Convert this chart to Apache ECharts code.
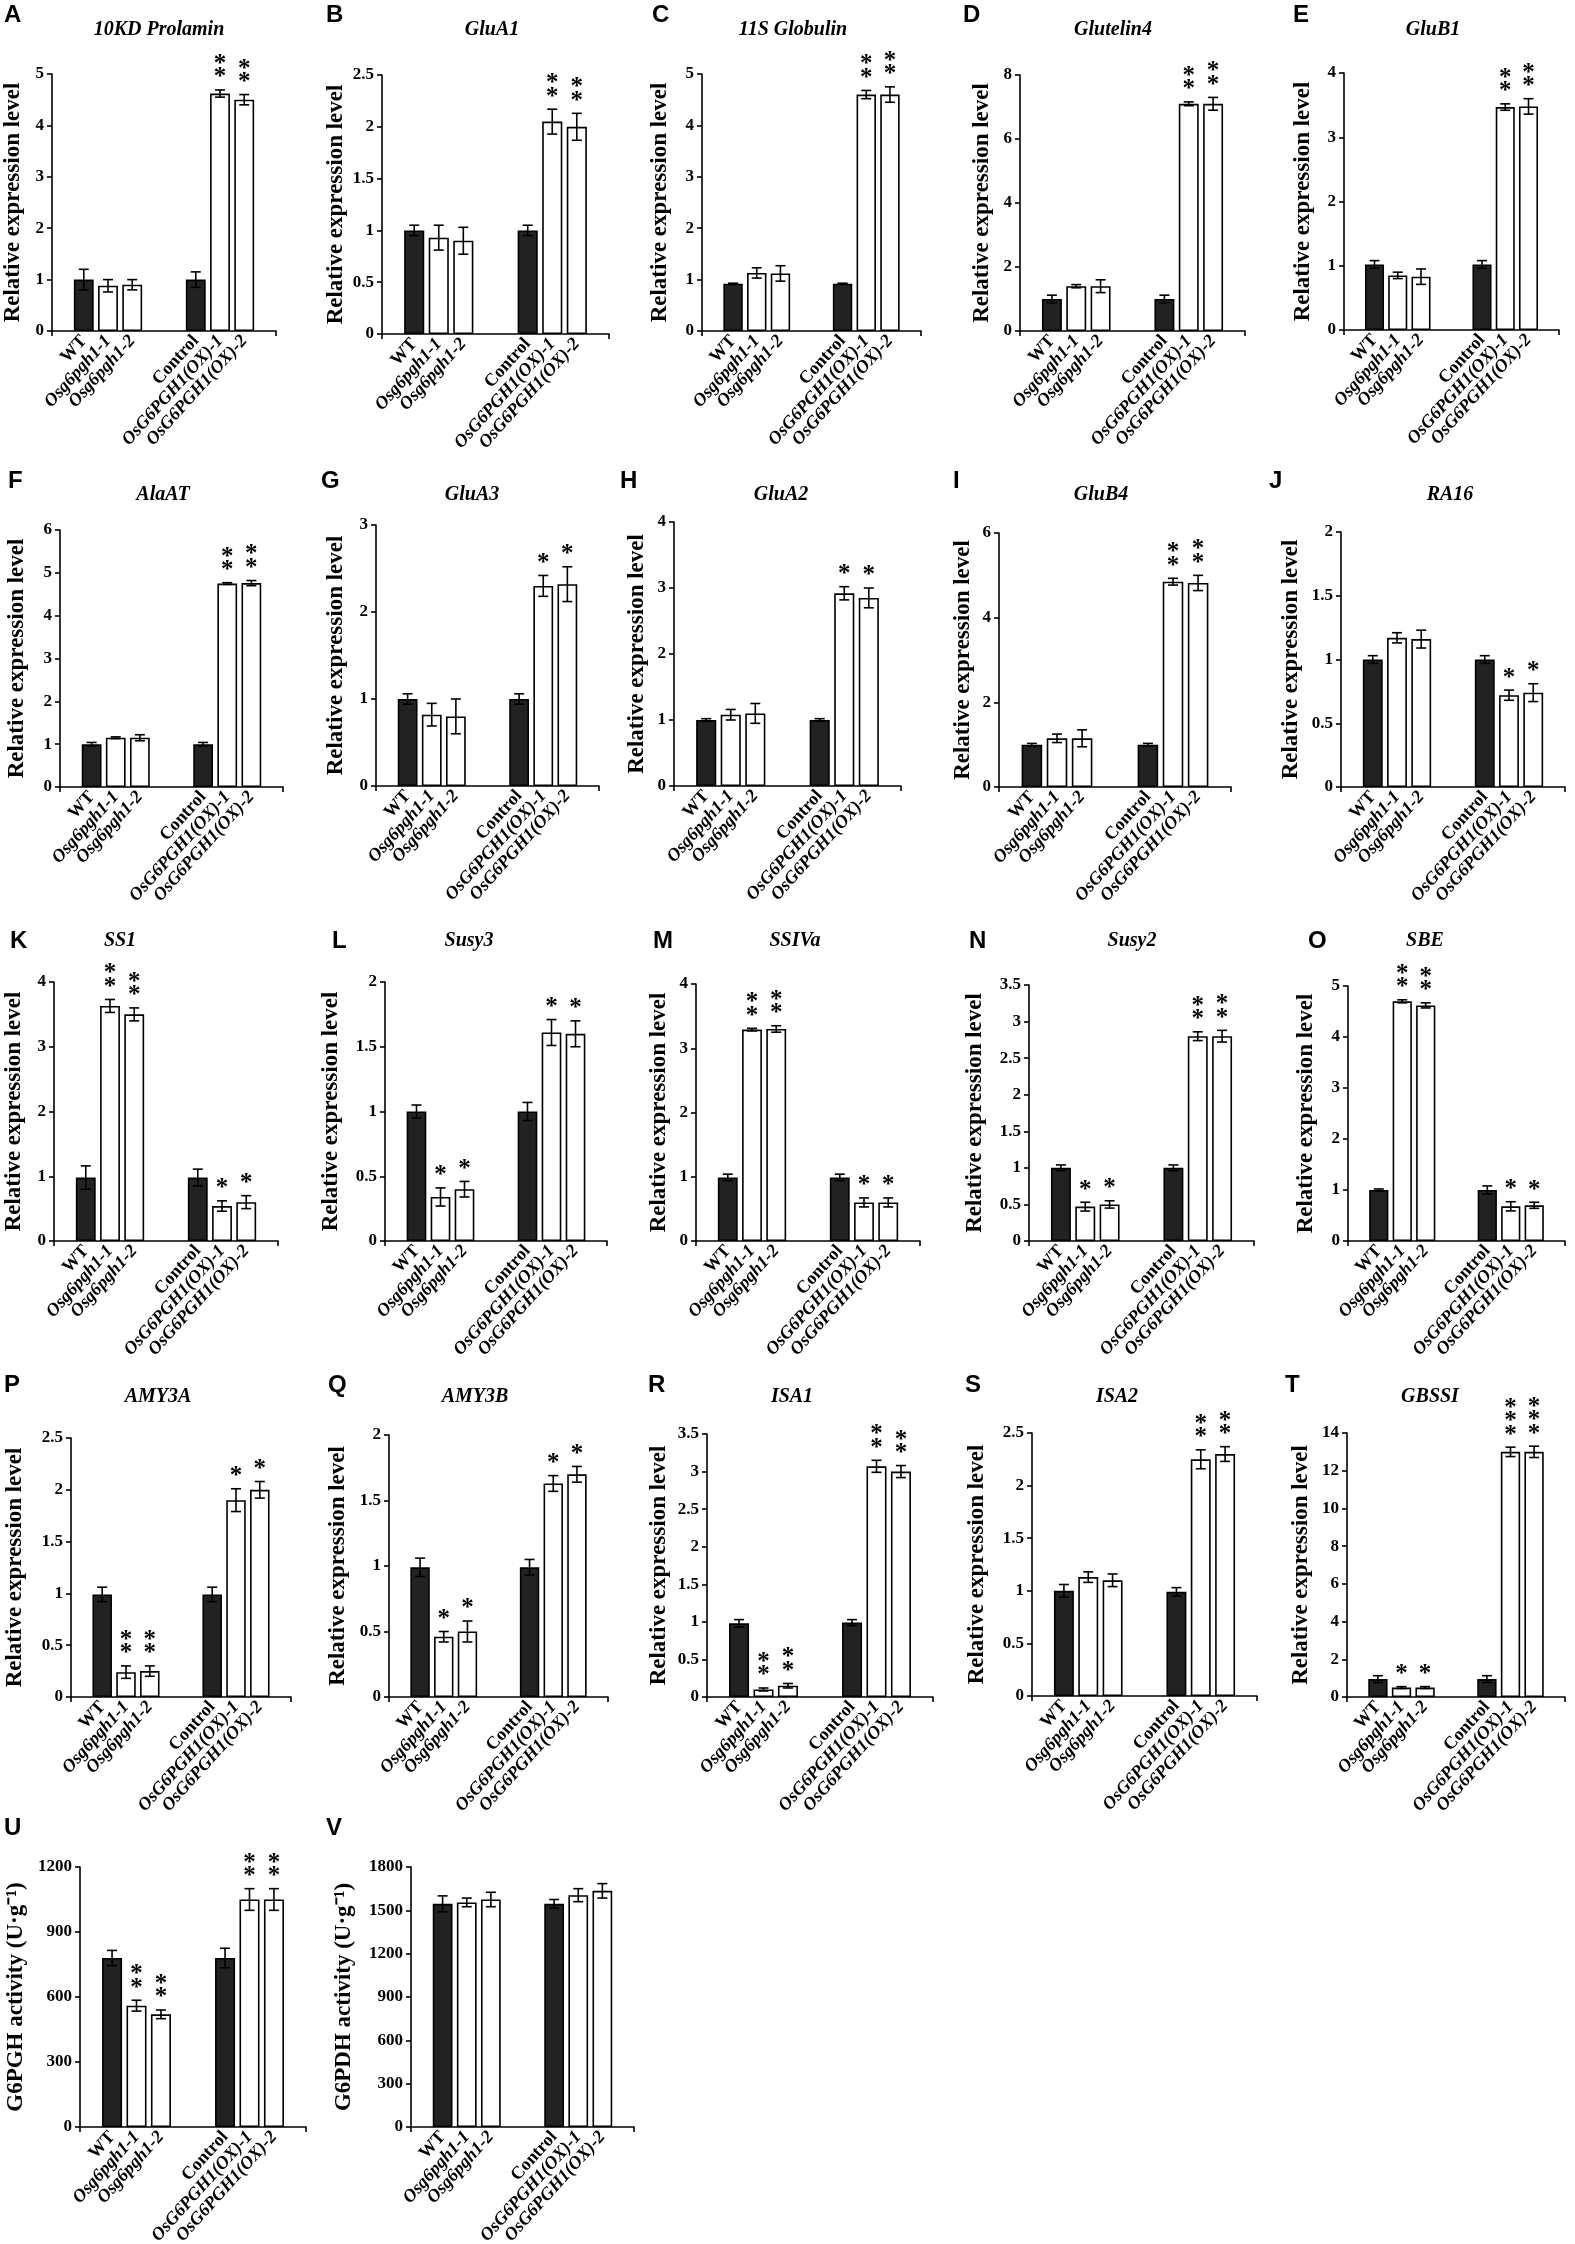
<!DOCTYPE html>
<html><head><meta charset="utf-8">
<script src="https://cdn.jsdelivr.net/npm/echarts@6/dist/echarts.min.js"></script>
<style>html,body{margin:0;padding:0;background:#fff}#c{width:1575px;height:2244px}</style>
</head><body><div id="c"></div>
<script>
// ---------- DATA ----------
const groups = ['Mutant lines', 'Overexpression lines'];
const barLabels = [
  ['WT', 'Control'],
  ['Osg6pgh1-1', 'OsG6PGH1(OX)-1'],
  ['Osg6pgh1-2', 'OsG6PGH1(OX)-2']
];
const panelLetters = ['A','B','C','D','E','F','G','H','I','J','K','L','M','N','O','P','Q','R','S','T','U','V'];
const geneTitles = ['10KD Prolamin','GluA1','11S Globulin','Glutelin4','GluB1',
  'AlaAT','GluA3','GluA2','GluB4','RA16',
  'SS1','Susy3','SSIVa','Susy2','SBE',
  'AMY3A','AMY3B','ISA1','ISA2','GBSSI','',''];
const REL = 'Relative expression level';
const yNames = [REL,REL,REL,REL,REL, REL,REL,REL,REL,REL, REL,REL,REL,REL,REL, REL,REL,REL,REL,REL,
  'G6PGH activity (U·g⁻¹)', 'G6PDH activity (U·g⁻¹)'];
const yMax  = [5,2.5,5,8,4, 6,3,4,6,2, 4,2,4,3.5,5, 2.5,2,3.5,2.5,14, 1200,1800];
const yStep = [1,0.5,1,2,1, 1,1,1,2,0.5, 1,0.5,1,0.5,1, 0.5,0.5,0.5,0.5,2, 300,300];
// order: WT, Osg6pgh1-1, Osg6pgh1-2, Control, OX-1, OX-2
const means = [
  [1.0,0.88,0.9, 1.0,4.62,4.5],
  [1.0,0.93,0.9, 1.0,2.05,2.0],
  [0.92,1.13,1.12, 0.92,4.6,4.6],
  [1.0,1.4,1.4, 1.0,7.1,7.1],
  [1.02,0.85,0.83, 1.02,3.47,3.48],
  [1.0,1.15,1.15, 1.0,4.75,4.76],
  [1.0,0.82,0.8, 1.0,2.3,2.32],
  [1.0,1.08,1.1, 1.0,2.92,2.85],
  [1.0,1.15,1.15, 1.0,4.85,4.82],
  [1.0,1.17,1.16, 1.0,0.72,0.74],
  [0.98,3.63,3.5, 0.98,0.54,0.6],
  [1.0,0.34,0.4, 1.0,1.61,1.6],
  [0.99,3.29,3.3, 0.99,0.6,0.6],
  [1.0,0.47,0.5, 1.0,2.8,2.8],
  [1.0,4.7,4.62, 1.0,0.68,0.7],
  [0.99,0.24,0.25, 0.99,1.9,2.0],
  [0.99,0.46,0.5, 0.99,1.63,1.7],
  [0.98,0.1,0.15, 0.99,3.07,3.0],
  [1.0,1.13,1.1, 0.99,2.25,2.3],
  [0.95,0.5,0.5, 0.95,13.0,13.0],
  [780,560,520, 780,1050,1050],
  [1545,1555,1575, 1545,1605,1635]
];
const errors = [
  [0.2,0.12,0.1, 0.15,0.07,0.1],
  [0.05,0.12,0.13, 0.05,0.12,0.13],
  [0.01,0.1,0.15, 0.01,0.08,0.15],
  [0.12,0.05,0.2, 0.12,0.06,0.2],
  [0.06,0.05,0.12, 0.06,0.05,0.12],
  [0.04,0.02,0.07, 0.04,0.02,0.06],
  [0.06,0.13,0.2, 0.06,0.12,0.2],
  [0.02,0.08,0.15, 0.02,0.1,0.15],
  [0.03,0.1,0.2, 0.03,0.08,0.18],
  [0.03,0.04,0.07, 0.03,0.04,0.07],
  [0.18,0.1,0.1, 0.13,0.08,0.1],
  [0.05,0.07,0.06, 0.07,0.1,0.1],
  [0.05,0.02,0.05, 0.05,0.07,0.07],
  [0.04,0.06,0.05, 0.04,0.06,0.08],
  [0.02,0.03,0.05, 0.08,0.09,0.06],
  [0.07,0.06,0.05, 0.07,0.11,0.08],
  [0.07,0.04,0.08, 0.06,0.06,0.06],
  [0.05,0.02,0.03, 0.04,0.08,0.08],
  [0.06,0.05,0.06, 0.04,0.09,0.07],
  [0.18,0.05,0.05, 0.18,0.25,0.3],
  [35,25,20, 45,50,50],
  [55,30,50, 30,45,50]
];
const stars = [
  [0,0,0,0,2,2],[0,0,0,0,2,2],[0,0,0,0,2,2],[0,0,0,0,2,2],[0,0,0,0,2,2],
  [0,0,0,0,2,2],[0,0,0,0,1,1],[0,0,0,0,1,1],[0,0,0,0,2,2],[0,0,0,0,1,1],
  [0,2,2,0,1,1],[0,1,1,0,1,1],[0,2,2,0,1,1],[0,1,1,0,2,2],[0,2,2,0,1,1],
  [0,2,2,0,1,1],[0,1,1,0,1,1],[0,2,2,0,2,2],[0,0,0,0,2,2],[0,1,1,0,3,3],
  [0,2,2,0,2,2],[0,0,0,0,0,0]
];

// ---------- LAYOUT ----------
const plotL = [52,382,702,1020,1344, 60,376,674,999,1341, 54,385,696,1029,1348, 71,389,707,1032,1347, 80,411];
const plotR = [276,609,921,1245,1559, 283,599,901,1231,1565, 278,607,920,1254,1565, 291,608,933,1257,1565, 306,634];
const plotT = [74,75,74,75,73, 530,525,522,533,532, 982,982,984,985,986, 1438,1435,1434,1433,1433, 1867,1867];
const plotB = [331,334,331,331,330, 787,786,786,787,787, 1241,1241,1241,1241,1241, 1697,1697,1697,1696,1697, 2127,2127];
const nameGap = [27,34,30,26,29, 31,28,25,24,38, 28,42,25,42,30, 44,39,36,43,34, 52,55];
const letterX = [4,326,652,963,1293, 8,321,620,953,1269, 10,332,653,969,1308, 4,328,648,965,1285, 4,326];
const rowLetterTop = [7,473,933,1377,1820];
const titleX = [159,492,793,1113,1433, 163,472,781,1101,1450, 120,469,795,1132,1425, 158,475,792,1117,1430];
const rowTitleY = [30,495,941,1397];

const SERIF = 'Liberation Serif';
const CAT_GAP = 0.39, BAR_GAP = 0.22;
const STAR_GAP = 17, STAR_STEP = 13.5, STAR_SHIFT = 5;

const chart = echarts.init(document.getElementById('c'), null, {renderer: 'canvas'});
const grids = [], xAxes = [], yAxes = [], series = [], gfx = [];
const lineCol = '#000';

function renderErr(params, api) {
  const g = api.value(0), m = api.value(1), e = api.value(2), n = api.value(3), s = api.value(4);
  const band = api.size([1, 0])[0];
  const bw = band * (1 - CAT_GAP) / (3 + 2 * BAR_GAP);
  const cx = api.coord([g, m])[0] + (s - 1) * bw * (1 + BAR_GAP);
  const yTop = api.coord([g, m + e])[1];
  const yBot = api.coord([g, Math.max(0, m - e)])[1];
  const st = {stroke: lineCol, lineWidth: 1.6};
  const cap = 5;
  const ch = [
    {type: 'line', shape: {x1: cx, y1: yTop, x2: cx, y2: yBot}, style: st},
    {type: 'line', shape: {x1: cx - cap, y1: yTop, x2: cx + cap, y2: yTop}, style: st},
    {type: 'line', shape: {x1: cx - cap, y1: yBot, x2: cx + cap, y2: yBot}, style: st}
  ];
  for (let k = 0; k < n; k++) {
    ch.push({type: 'text', x: cx, y: yTop - STAR_GAP - k * STAR_STEP + STAR_SHIFT,
      style: {text: '*', fill: '#000', font: 'bold 25px "Liberation Serif"', textAlign: 'center', textVerticalAlign: 'middle'}});
  }
  return {type: 'group', children: ch};
}

for (let p = 0; p < 22; p++) {
  grids.push({left: plotL[p], top: plotT[p], width: plotR[p] - plotL[p], height: plotB[p] - plotT[p],
    containLabel: false, outerBoundsMode: 'none'});
  xAxes.push({type: 'category', gridIndex: p, data: groups,
    axisLine: {show: true, lineStyle: {color: lineCol, width: 1.6}},
    axisTick: {show: true, length: 5, lineStyle: {color: lineCol, width: 1.6}},
    axisLabel: {show: false}, splitLine: {show: false}});
  yAxes.push({type: 'value', gridIndex: p, min: 0, max: yMax[p], interval: yStep[p],
    name: yNames[p], nameLocation: 'middle', nameGap: nameGap[p], nameMoveOverlap: false,
    nameTextStyle: {fontFamily: SERIF, fontWeight: 'bold', fontSize: 23, color: '#000'},
    axisLine: {show: true, lineStyle: {color: lineCol, width: 1.6}},
    axisTick: {show: true, length: 5, lineStyle: {color: lineCol, width: 1.6}},
    axisLabel: {fontFamily: SERIF, fontWeight: 'bold', fontSize: 17, color: '#000', margin: 8,
      formatter: (v) => String(v)},
    splitLine: {show: false}});
  for (let s = 0; s < 3; s++) {
    series.push({type: 'bar', xAxisIndex: p, yAxisIndex: p,
      barGap: (BAR_GAP * 100) + '%', barCategoryGap: (CAT_GAP * 100) + '%',
      data: [0, 1].map(g => ({value: means[p][s + 3 * g],
        label: {fontStyle: s === 0 ? 'normal' : 'italic'}})),
      itemStyle: {color: s === 0 ? '#222' : '#fff', borderColor: '#000', borderWidth: 1.6},
      label: {show: true, position: 'bottom', distance: 7, rotate: 48, align: 'right', verticalAlign: 'middle',
        formatter: (prm) => barLabels[s][prm.dataIndex],
        fontFamily: SERIF, fontWeight: 'bold', fontSize: 18, color: '#000'},
      silent: true, animation: false});
  }
  const ed = [];
  for (let g = 0; g < 2; g++) for (let s = 0; s < 3; s++) {
    const i = s + 3 * g;
    ed.push([g, means[p][i], errors[p][i], stars[p][i], s]);
  }
  series.push({type: 'custom', xAxisIndex: p, yAxisIndex: p, data: ed, renderItem: renderErr,
    z: 10, silent: true, animation: false, clip: false});

  const row = Math.floor(p / 5);
  gfx.push({type: 'text', x: letterX[p], y: rowLetterTop[row] - 4,
    style: {text: panelLetters[p], fill: '#000', font: 'bold 24px "Liberation Sans"', textAlign: 'left', textVerticalAlign: 'top'}});
  if (geneTitles[p]) {
    gfx.push({type: 'text', x: titleX[p], y: rowTitleY[row],
      style: {text: geneTitles[p], fill: '#000', font: 'italic bold 20px "Liberation Serif"', textAlign: 'center', textVerticalAlign: 'middle'}});
  }
}

chart.setOption({
  animation: false,
  backgroundColor: '#fff',
  grid: grids, xAxis: xAxes, yAxis: yAxes, series: series,
  graphic: {elements: gfx}
});
</script></body></html>
